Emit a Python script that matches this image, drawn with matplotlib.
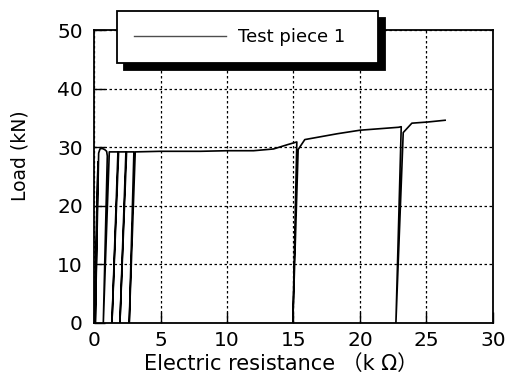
import matplotlib
matplotlib.use("Agg")
import matplotlib.pyplot as plt

plt.rcParams['font.family'] = ['DejaVu Sans', 'Noto Sans CJK JP']

# load / resistance trace for test piece 1 (unload-reload cycles at the start,
# two unloadings near 15 and 23 kOhm)
resistance = [0.0, 0.3, 0.1, 0.35, 0.45, 0.6, 0.8, 0.95, 1.0, 0.7, 1.15, 1.3,
              1.8, 1.35, 1.85, 2.4, 1.95, 2.45, 3.0, 2.65, 3.1, 5.0, 8.0,
              10.0, 12.0, 13.5, 14.5, 15.25, 14.95, 15.35, 15.85, 18.3, 20.0,
              22.9, 23.1, 22.7, 23.25, 23.9, 25.1, 26.4]
load = [0.0, 27.5, 0.0, 29.0, 29.7, 29.8, 29.6, 29.3, 28.5, 0.0, 29.2, 29.2,
        29.2, 0.0, 29.2, 29.2, 0.0, 29.2, 29.2, 0.0, 29.2, 29.3, 29.3,
        29.4, 29.4, 29.7, 30.4, 30.9, 0.0, 29.6, 31.3, 32.3, 32.9,
        33.4, 33.5, 0.0, 32.5, 34.1, 34.3, 34.6]

x_ticks = [0, 5, 10, 15, 20, 25, 30]
y_ticks = [0, 10, 20, 30, 40, 50]

fig = plt.figure(figsize=(5.06, 3.89), dpi=100)
ax = fig.add_axes([94 / 506, 1 - 323 / 389, 399 / 506, 293 / 389])

ax.plot(resistance, load, color='black', lw=1.2, label='Test piece 1')

ax.set_xlim(0, 30)
ax.set_ylim(0, 50)
ax.set_xticks(x_ticks)
ax.set_yticks(y_ticks)
ax.grid(True, color='black', lw=0.9, linestyle=(0, (2, 2)))
ax.tick_params(axis='both', direction='in', length=8, width=1,
               labelsize=14.5, color='black')
ax.tick_params(axis='x', pad=6)
ax.tick_params(axis='y', pad=8)
for sp in ax.spines.values():
    sp.set_linewidth(1.3)

ax.set_xlabel('Electric resistance （k Ω）', fontsize=15, va='center',
              family=['DejaVu Sans', 'Noto Sans CJK JP'])
ax.xaxis.set_label_coords((281 - 94) / 399, (323 - 364) / 293)
ax.set_ylabel('Load (kN)', fontsize=13.5, va='center')
ax.yaxis.set_label_coords((20 - 94) / 399, (323 - 156) / 293)

leg = ax.legend(loc='upper left', mode='expand',
                bbox_to_anchor=(117 / 506, 0.5, 261 / 506, 1 - 11 / 389 - 0.5),
                bbox_transform=fig.transFigure, borderaxespad=0,
                fontsize=13, handlelength=5.1, handletextpad=0.65,
                borderpad=0.95, fancybox=False, framealpha=1,
                shadow={'ox': 5, 'oy': -5, 'facecolor': 'black',
                        'edgecolor': 'black', 'alpha': 1})
leg.get_frame().set_edgecolor('black')
leg.get_frame().set_linewidth(1.3)
leg.get_lines()[0].set_color('0.3')
leg.get_lines()[0].set_linewidth(1.0)

fig.savefig('out.png', dpi=100)
